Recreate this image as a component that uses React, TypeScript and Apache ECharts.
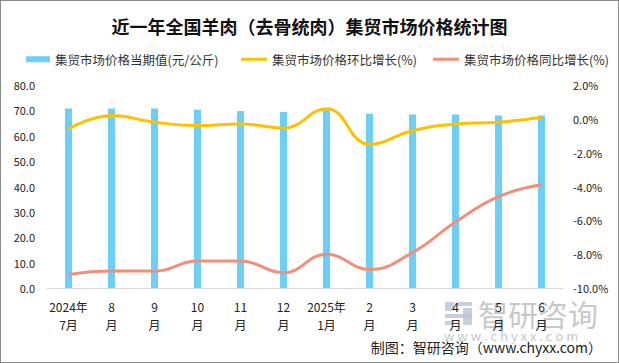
import React, { useEffect, useRef } from "react";
import * as echarts from "echarts";

const categories = ["2024年\n7月", "8\n月", "9\n月", "10\n月", "11\n月", "12\n月", "2025年\n1月", "2\n月", "3\n月", "4\n月", "5\n月", "6\n月"];
const priceValues = [70.7, 70.7, 70.7, 70.2, 69.8, 69.4, 70.5, 68.7, 68.4, 68.4, 68.0, 68.0];
const momValues = [-0.6, 0.2, -0.2, -0.4, -0.3, -0.55, 0.6, -1.5, -0.7, -0.3, -0.2, 0.1];
const yoyValues = [-9.2, -9.0, -9.0, -8.4, -8.4, -9.1, -8.0, -8.9, -7.9, -6.1, -4.6, -3.9];

const seriesNames = ["集贸市场价格当期值(元/公斤)", "集贸市场价格环比增长(%)", "集贸市场价格同比增长(%)"];
const FONT = "'Noto Sans CJK SC', 'Noto Sans', sans-serif";

const legendText = { fontSize: 12.5, color: "#333", fontFamily: FONT };

export default function App() {
  const ref = useRef<HTMLDivElement>(null);
  useEffect(() => {
    if (!ref.current) return;
    const chart = echarts.init(ref.current, undefined, { renderer: "svg" });
    chart.setOption({
      animation: false,
      textStyle: { fontFamily: FONT },
      title: {
        text: "近一年全国羊肉（去骨统肉）集贸市场价格统计图",
        left: "center",
        top: 11,
        textStyle: { fontSize: 18, fontWeight: "bold", color: "#111", fontFamily: FONT },
      },
      legend: [
        {
          left: 20,
          top: 47,
          itemWidth: 24,
          itemHeight: 6,
          textStyle: legendText,
          data: [{ name: seriesNames[0], icon: "rect" }],
        },
        {
          left: 235,
          top: 47,
          itemWidth: 26,
          itemHeight: 3,
          textStyle: legendText,
          data: [{ name: seriesNames[1], icon: "rect" }],
        },
        {
          left: 427,
          top: 47,
          itemWidth: 26,
          itemHeight: 3,
          textStyle: legendText,
          data: [{ name: seriesNames[2], icon: "rect" }],
        },
      ],
      grid: { left: 46, right: 55, top: 84, bottom: 74 },
      xAxis: {
        type: "category",
        data: categories,
        axisLine: { lineStyle: { color: "#d9d9d9", width: 1 } },
        axisTick: { show: false },
        axisLabel: { fontSize: 12, color: "#222", lineHeight: 18, margin: 9, interval: 0, fontFamily: FONT },
      },
      yAxis: [
        {
          type: "value",
          min: 0,
          max: 80,
          interval: 10,
          splitLine: { show: false },
          axisLine: { show: false },
          axisTick: { show: false },
          axisLabel: { fontSize: 11, color: "#222", margin: 12, formatter: (v: number) => v.toFixed(1), fontFamily: FONT },
        },
        {
          type: "value",
          min: -10,
          max: 2,
          interval: 2,
          splitLine: { show: false },
          axisLine: { show: false },
          axisTick: { show: false },
          axisLabel: { fontSize: 11, color: "#222", margin: 10, formatter: (v: number) => v.toFixed(1) + "%", fontFamily: FONT },
        },
      ],
      series: [
        {
          name: seriesNames[0],
          type: "bar",
          data: priceValues,
          barWidth: 7,
          itemStyle: { color: "#6dcff6" },
        },
        {
          name: seriesNames[1],
          type: "line",
          yAxisIndex: 1,
          data: momValues,
          smooth: 0.45,
          symbol: "none",
          lineStyle: { color: "#ffc000", width: 3 },
          itemStyle: { color: "#ffc000" },
        },
        {
          name: seriesNames[2],
          type: "line",
          yAxisIndex: 1,
          data: yoyValues,
          smooth: 0.45,
          symbol: "none",
          lineStyle: { color: "#f0907a", width: 3 },
          itemStyle: { color: "#f0907a" },
        },
      ],
      graphic: [
        { type: "rect", left: 444, top: 301, shape: { width: 9, height: 9 }, style: { fill: "#b8c4d4", opacity: 0.8 }, z: 0 },
        { type: "rect", left: 456, top: 301, shape: { width: 15, height: 4 }, style: { fill: "#b8c4d4", opacity: 0.8 }, z: 0 },
        { type: "rect", left: 444, top: 313, shape: { width: 27, height: 4 }, style: { fill: "#b8c4d4", opacity: 0.8 }, z: 0 },
        { type: "rect", left: 444, top: 320, shape: { width: 9, height: 4 }, style: { fill: "#b8c4d4", opacity: 0.8 }, z: 0 },
        { type: "rect", left: 462, top: 307, shape: { width: 9, height: 17 }, style: { fill: "#b8c4d4", opacity: 0.8 }, z: 0 },
        {
          type: "text",
          left: 477,
          top: 297,
          style: { text: "智研咨询", fontSize: 30, fill: "#b0b0b0", opacity: 0.7, fontFamily: FONT },
          z: 0,
        },
        {
          type: "text",
          left: 443,
          top: 328,
          style: { text: "w w w . c h y x x . c o m", fontSize: 13, fill: "#c8c8c8", fontFamily: FONT },
          z: 0,
        },
        {
          type: "text",
          right: 16,
          top: 339,
          style: { text: "制图：智研咨询（www.chyxx.com）", fontSize: 14, fill: "#222", fontFamily: FONT },
          z: 10,
        },
      ],
    });
    return () => chart.dispose();
  }, []);
  return (
    <div
      style={{
        position: "fixed",
        left: 0,
        top: 0,
        width: 619,
        height: 363,
        boxSizing: "border-box",
        border: "1px solid #8c8c8c",
        background: "#fff",
      }}
    >
      <div ref={ref} style={{ width: 617, height: 361 }} />
    </div>
  );
}
